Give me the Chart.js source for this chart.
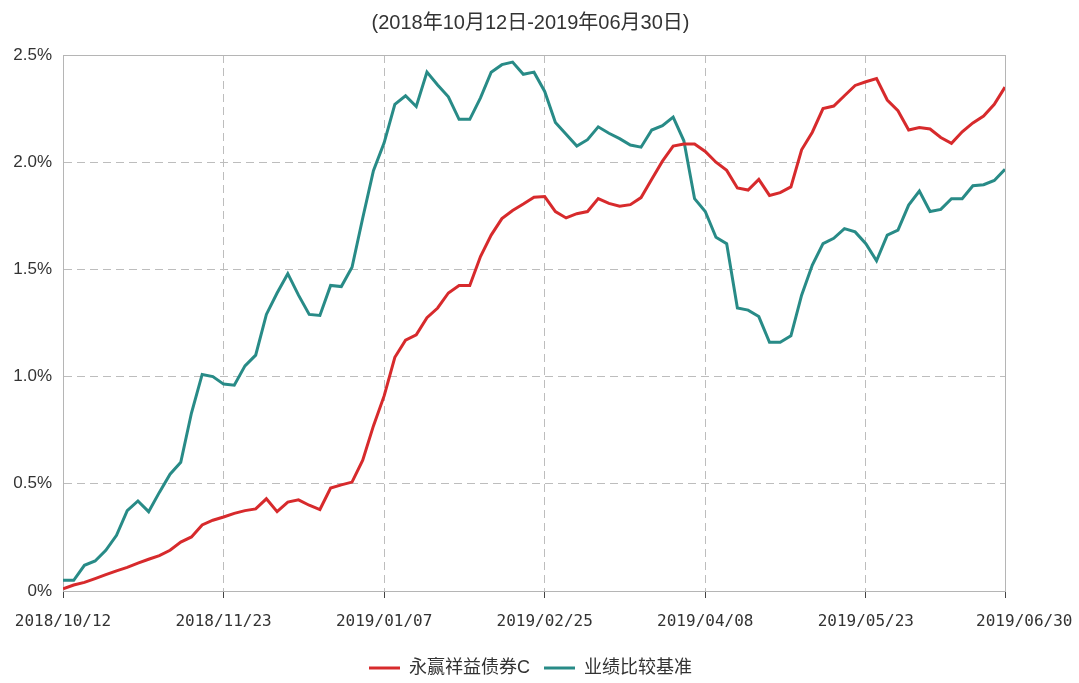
<!DOCTYPE html>
<html>
<head>
<meta charset="utf-8">
<script src="https://cdn.jsdelivr.net/npm/chart.js@4.4.0/dist/chart.umd.min.js"></script>
<style>
  html, body { margin: 0; padding: 0; background: #fff; }
  #wrap { width: 1079px; height: 683px; }
</style>
</head>
<body>
<div id="wrap"><canvas id="chart" width="1079" height="683"></canvas></div>
<script>
// --- data (percent), one value every 2 trading days from 2018/10/12 ---
const STEP = 2;
const fundValues = [
  0.01, 0.028, 0.04, 0.058, 0.076, 0.094, 0.11, 0.13, 0.148, 0.165,
  0.19, 0.228, 0.252, 0.308, 0.33, 0.345, 0.362, 0.375, 0.383, 0.43,
  0.37, 0.415, 0.425, 0.40, 0.38, 0.48, 0.495, 0.508, 0.61, 0.77,
  0.91, 1.09, 1.17, 1.195, 1.275, 1.32, 1.39, 1.425, 1.425, 1.56,
  1.66, 1.737, 1.775, 1.805, 1.837, 1.84, 1.77, 1.74, 1.76, 1.77,
  1.83, 1.808, 1.795, 1.802, 1.835, 1.92, 2.005, 2.075, 2.085, 2.085,
  2.05, 2.00, 1.962, 1.88, 1.87, 1.92, 1.845, 1.858, 1.885, 2.058,
  2.14, 2.25, 2.262, 2.31, 2.358, 2.375, 2.39, 2.29, 2.24, 2.15,
  2.162, 2.155, 2.115, 2.088, 2.142, 2.183, 2.215, 2.27, 2.35
];
const benchValues = [
  0.05, 0.05, 0.12, 0.14, 0.19, 0.26, 0.375, 0.42, 0.37, 0.46,
  0.545, 0.60, 0.83, 1.01, 1.0, 0.965, 0.96, 1.05, 1.10, 1.29,
  1.39, 1.48, 1.38, 1.29, 1.285, 1.425, 1.42, 1.51, 1.74, 1.96,
  2.09, 2.27, 2.31, 2.26, 2.42, 2.36, 2.305, 2.2, 2.2, 2.3,
  2.42, 2.455, 2.467, 2.41, 2.42, 2.33, 2.185, 2.13, 2.075, 2.105,
  2.165, 2.135, 2.11, 2.08, 2.07, 2.15, 2.17, 2.21, 2.10, 1.83,
  1.77, 1.65, 1.62, 1.32, 1.31, 1.28, 1.16, 1.16, 1.19, 1.38,
  1.52, 1.62, 1.645, 1.69, 1.675, 1.62, 1.54, 1.66, 1.683, 1.80,
  1.865, 1.77, 1.78, 1.83, 1.83, 1.89, 1.895, 1.915, 1.967
];
const tickDays = [0, 30, 60, 90, 120, 150, 176];
const tickLabels = ['2018/10/12', '2018/11/23', '2019/01/07', '2019/02/25', '2019/04/08', '2019/05/23', '2019/06/30'];
const yTicks = [0, 0.5, 1, 1.5, 2, 2.5];
const seriesNames = ['永赢祥益债券C', '业绩比较基准'];

const RED = '#d72a2c';
const TEAL = '#288b87';
const GRID = '#bdbdbd';
const TEXT = '#333333';
const CJK = "'Liberation Sans', 'Noto Sans CJK SC', sans-serif";

const toPoints = arr => arr.map((v, i) => ({ x: i * STEP, y: v }));

// last date label sits flush with the right edge, so nudge it with leading spaces (mono font)
function xLabel(v) {
  const i = tickDays.indexOf(v);
  if (i < 0) return '';
  return i === tickDays.length - 1 ? '    ' + tickLabels[i] : tickLabels[i];
}

// solid frame around the plot area
const framePlugin = {
  id: 'frame',
  beforeDatasetsDraw(chart) {
    const { ctx, chartArea: a } = chart;
    ctx.save();
    ctx.strokeStyle = '#b5b5b5';
    ctx.lineWidth = 1;
    ctx.strokeRect(a.left + 0.5, a.top + 0.5, a.right - a.left, a.bottom - a.top);
    ctx.restore();
  }
};

new Chart(document.getElementById('chart'), {
  type: 'line',
  data: {
    datasets: [
      {
        label: seriesNames[0],
        data: toPoints(fundValues),
        borderColor: RED,
        backgroundColor: RED,
        borderWidth: 3,
        pointRadius: 0,
        pointStyle: 'line',
        tension: 0
      },
      {
        label: seriesNames[1],
        data: toPoints(benchValues),
        borderColor: TEAL,
        backgroundColor: TEAL,
        borderWidth: 3,
        pointRadius: 0,
        pointStyle: 'line',
        tension: 0
      }
    ]
  },
  options: {
    responsive: false,
    animation: false,
    layout: { padding: { left: 0, right: 18, top: 4, bottom: -4 } },
    plugins: {
      title: {
        display: true,
        text: '(2018年10月12日-2019年06月30日)',
        color: TEXT,
        font: { family: CJK, size: 20, weight: 'normal' },
        padding: { top: 7, bottom: 20 }
      },
      legend: {
        position: 'bottom',
        labels: {
          color: TEXT,
          font: { family: CJK, size: 18 },
          usePointStyle: true,
          pointStyleWidth: 31,
          boxHeight: 3,
          padding: 14
        }
      },
      tooltip: { enabled: false }
    },
    scales: {
      x: {
        type: 'linear',
        min: 0,
        max: tickDays[tickDays.length - 1],
        afterBuildTicks: scale => { scale.ticks = tickDays.map(v => ({ value: v })); },
        afterFit: scale => {
          scale.height = 54;
          scale.paddingRight = 74;
        },
        grid: {
          color: GRID,
          drawTicks: true,
          tickLength: 7,
          tickColor: '#444',
          tickWidth: 1,
          tickBorderDash: []
        },
        border: { display: true, color: '#b5b5b5', dash: [8, 5] },
        ticks: {
          autoSkip: false,
          maxRotation: 0,
          color: TEXT,
          padding: 14,
          font: { family: "'DejaVu Sans Mono', monospace", size: 16 },
          callback: xLabel
        }
      },
      y: {
        min: 0,
        max: 2.5,
        afterBuildTicks: scale => { scale.ticks = yTicks.map(v => ({ value: v })); },
        afterFit: scale => { scale.width = 63; },
        grid: { color: GRID, drawTicks: false },
        border: { display: true, color: '#b5b5b5', dash: [8, 5] },
        ticks: {
          color: TEXT,
          padding: 11,
          font: { family: "'Liberation Sans', sans-serif", size: 17 },
          callback: v => (v === 0 ? '0%' : v.toFixed(1) + '%')
        }
      }
    }
  },
  plugins: [framePlugin]
});
</script>
</body>
</html>
